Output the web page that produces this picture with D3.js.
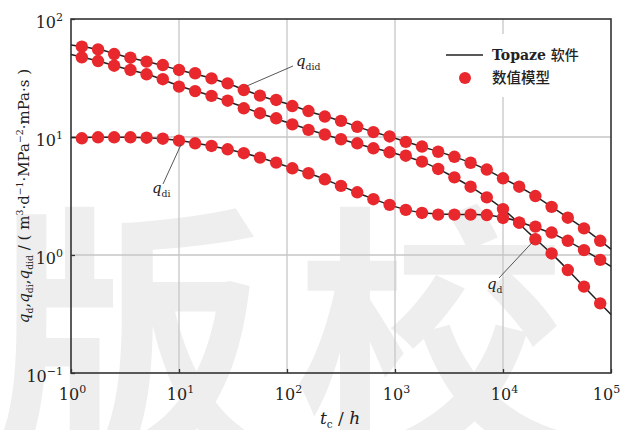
<!DOCTYPE html>
<html>
<head>
<meta charset="utf-8">
<script src="https://cdn.jsdelivr.net/npm/d3@7/dist/d3.min.js"></script>
<style>
  html, body { margin: 0; padding: 0; background: #ffffff; }
  svg { display: block; }
</style>
</head>
<body>
<svg id="chart" width="621" height="430"></svg>
<script>
// Simulated production time, h (numerical model sample times)
const tHours = [1.26, 1.78, 2.51, 3.55, 5.01, 7.08, 10, 14.1, 20.0, 28.2, 39.8, 56.2, 79.4,
  112, 158, 224, 316, 447, 631, 891, 1259, 1778, 2512, 3548, 5012, 7079, 10000,
  14125, 19953, 28184, 39811, 56234, 79433];

// Numerical model results
const qdidModel = [58.2, 55.3, 50.5, 47.0, 43.5, 40.7, 37.0, 34.7, 31.4, 28.5, 25.0, 22.4, 20.6,
  18.3, 16.6, 14.9, 13.7, 12.2, 11.0, 10.1, 9.1, 8.3, 7.5, 6.8, 6.05, 5.3, 4.47,
  3.79, 3.16, 2.56, 2.07, 1.68, 1.32];
const qdModel = [47.3, 44.0, 40.2, 37.0, 34.0, 30.9, 26.7, 24.5, 22.3, 20.3, 17.5, 15.9, 14.4,
  12.8, 11.5, 10.5, 9.57, 8.85, 8.02, 7.42, 6.94, 6.18, 5.36, 4.55, 3.79, 3.08, 2.45,
  1.88, 1.36, 1.03, 0.746, 0.539, 0.389];
const qdiModel = [9.75, 9.94, 9.94, 9.94, 9.86, 9.67, 9.31, 8.85, 8.40, 7.87, 7.29, 6.69, 6.06,
  5.43, 4.93, 4.38, 3.85, 3.40, 2.97, 2.66, 2.41, 2.27, 2.20, 2.20, 2.20, 2.18, 2.06,
  1.88, 1.74, 1.55, 1.32, 1.10, 0.91];

// Topaze software curves
const topazeT = [1, 1.78, 3.16, 5.62, 10, 17.8, 31.6, 56.2, 100, 178, 316, 562, 1000,
  1778, 3162, 5623, 10000, 17783, 31623, 56234, 100000];
const qdidTopaze = [60.3, 55.3, 48.1, 42.5, 37.0, 32.4, 27.3, 22.4, 19.1, 16.0, 13.7, 11.4, 9.75,
  8.28, 7.03, 5.80, 4.47, 3.36, 2.39, 1.68, 1.12];
const qdTopaze = [50.1, 44.1, 38.0, 33.0, 27.2, 23.0, 19.3, 15.9, 13.3, 11.2, 9.57, 8.28, 7.26,
  6.18, 4.81, 3.54, 2.45, 1.51, 0.927, 0.538, 0.313];
const qdiTopaze = [9.89, 9.93, 9.93, 9.79, 9.33, 8.55, 7.67, 6.70, 5.64, 4.74, 3.85, 3.11, 2.57,
  2.28, 2.21, 2.20, 2.08, 1.78, 1.46, 1.10, 0.80];

// Axis ticks (decades)
const xTicks = [1, 10, 100, 1000, 10000, 100000];
const xTickExp = ["0", "1", "2", "3", "4", "5"];
const yTicks = [0.1, 1, 10, 100];
const yTickExp = ["\u22121", "0", "1", "2"];

const legendLabels = ["Topaze \u8f6f\u4ef6", "\u6570\u503c\u6a21\u578b"];

const svg = d3.select("#chart");
const W = 621, H = 430;
const box = { left: 71, right: 611, top: 19, bottom: 373 };

const serif = "'DejaVu Serif', 'Liberation Serif', serif";
const cjk = "'Noto Sans CJK SC', sans-serif";
const red = "#e8282c";

svg.append("rect").attr("width", W).attr("height", H).attr("fill", "#ffffff");

// Background stamp characters
svg.append("text")
  .attr("x", -8).attr("y", 438)
  .attr("font-family", cjk).attr("font-weight", 700)
  .attr("font-size", 272)
  .attr("letter-spacing", 30)
  .attr("fill", "#eeeeee")
  .text("\u7248\u6821");

const x = d3.scaleLog().domain([1, 1e5]).range([box.left, box.right]);
const y = d3.scaleLog().domain([0.1, 100]).range([box.bottom, box.top]);

// Grid
const grid = svg.append("g").attr("stroke", "#c6c6c6").attr("stroke-width", 1.3);
grid.selectAll("line.v").data(xTicks.slice(1, -1)).join("line")
  .attr("x1", d => x(d)).attr("x2", d => x(d))
  .attr("y1", box.top).attr("y2", box.bottom);
grid.selectAll("line.h").data(yTicks.slice(1, -1)).join("line")
  .attr("x1", box.left).attr("x2", box.right)
  .attr("y1", d => y(d)).attr("y2", d => y(d));

// Axes with inward ticks
function richTick(sel, exps) {
  sel.selectAll(".tick text").each(function (d, i) {
    const t = d3.select(this);
    t.text(null);
    t.append("tspan").text("10");
    t.append("tspan").attr("font-size", 11).attr("dy", -7).text(exps[i]);
  });
}

const xAxis = svg.append("g")
  .attr("transform", `translate(0,${box.bottom})`)
  .call(d3.axisBottom(x).tickValues(xTicks).tickSizeInner(-4).tickSizeOuter(0).tickPadding(16));
xAxis.select(".domain").remove();
xAxis.selectAll(".tick line").attr("stroke", "#333").attr("stroke-width", 1.3);
xAxis.selectAll(".tick text").attr("font-family", serif).attr("font-size", 16).attr("fill", "#222")
  .attr("dx", (d, i) => i === xTicks.length - 1 ? -5 : 1);
richTick(xAxis, xTickExp);

const yAxis = svg.append("g")
  .attr("transform", `translate(${box.left},0)`)
  .call(d3.axisLeft(y).tickValues(yTicks).tickSizeInner(-4).tickSizeOuter(0).tickPadding(8));
yAxis.select(".domain").remove();
yAxis.selectAll(".tick line").attr("stroke", "#333").attr("stroke-width", 1.3);
yAxis.selectAll(".tick text").attr("font-family", serif).attr("font-size", 16).attr("fill", "#222")
  .attr("dy", "0.5em");
richTick(yAxis, yTickExp);

// Frame
svg.append("rect")
  .attr("x", box.left).attr("y", box.top)
  .attr("width", box.right - box.left).attr("height", box.bottom - box.top)
  .attr("fill", "none").attr("stroke", "#333").attr("stroke-width", 1.6);

// Topaze curves
const lineGen = d3.line().x(d => x(d[0])).y(d => y(d[1])).curve(d3.curveMonotoneX);
const curves = svg.append("g").attr("fill", "none").attr("stroke", "#222").attr("stroke-width", 1.5);
[qdidTopaze, qdTopaze, qdiTopaze].forEach(vals => {
  curves.append("path").attr("d", lineGen(vals.map((v, i) => [topazeT[i], v])));
});

// Numerical model points
const pts = svg.append("g").attr("fill", red);
[qdidModel, qdModel, qdiModel].forEach(vals => {
  pts.selectAll(null).data(vals.map((v, i) => [tHours[i], v])).join("circle")
    .attr("cx", d => x(d[0])).attr("cy", d => y(d[1])).attr("r", 6.2);
});

// Rich text helper: parts of [text, kind] where kind is "", "i", "sub", "sup"
function rich(textSel, parts, baseSize) {
  let shift = 0;
  parts.forEach(([s, kind]) => {
    const target = kind === "sub" ? 4 : kind === "sup" ? -6 : 0;
    const ts = textSel.append("tspan").text(s);
    if (target !== shift) ts.attr("dy", target - shift);
    shift = target;
    if (kind === "i") ts.attr("font-style", "italic");
    if (kind === "sub" || kind === "sup") ts.attr("font-size", baseSize * 0.62);
  });
}

// Curve labels with leader lines
const ann = svg.append("g");
function label(lx, ly, sub, x1, y1, x2, y2) {
  ann.append("line").attr("x1", x1).attr("y1", y1).attr("x2", x2).attr("y2", y2)
    .attr("stroke", "#444").attr("stroke-width", 0.9);
  const t = ann.append("text").attr("x", lx).attr("y", ly)
    .attr("font-family", serif).attr("font-size", 15).attr("fill", "#222");
  rich(t, [["q", "i"], [sub, "sub"]], 15);
}
label(296, 66, "did", 293, 66, x(tHours[10]) + 3, y(qdidModel[10]) - 4);
label(152, 193, "di", 163, 184, x(tHours[6]) + 2, y(qdiModel[6]) + 4);
label(487, 289, "d", 499, 278, x(tHours[28]) - 3, y(qdModel[28]) + 3);

// Legend
const lg = svg.append("g");
lg.append("rect").attr("x", 438).attr("y", 34).attr("width", 168).attr("height", 63).attr("fill", "#ffffff");
lg.append("line").attr("x1", 446).attr("x2", 483).attr("y1", 55).attr("y2", 55)
  .attr("stroke", "#222").attr("stroke-width", 1.5);
lg.append("circle").attr("cx", 465).attr("cy", 78).attr("r", 6).attr("fill", red);
const lt1 = lg.append("text").attr("x", 492).attr("y", 60).attr("font-size", 14).attr("fill", "#222");
lt1.append("tspan").attr("font-family", serif).attr("font-weight", 700).text("Topaze ");
lt1.append("tspan").attr("font-family", cjk).attr("font-weight", 500).text("\u8f6f\u4ef6");
lg.append("text").attr("x", 492).attr("y", 83).attr("font-size", 14.5).attr("fill", "#222")
  .attr("font-family", cjk).attr("font-weight", 500).text(legendLabels[1]);

// Axis titles
const xt = svg.append("text").attr("x", 340).attr("y", 424).attr("text-anchor", "middle")
  .attr("font-family", serif).attr("font-size", 17).attr("fill", "#222");
rich(xt, [["t", "i"], ["c", "sub"], [" / ", ""], ["h", "i"]], 17);

const yt = svg.append("text")
  .attr("transform", "translate(29,196) rotate(-90)")
  .attr("text-anchor", "middle")
  .attr("font-family", serif).attr("font-size", 15).attr("fill", "#222");
rich(yt, [
  ["q", "i"], ["d", "sub"], [",", ""], ["q", "i"], ["di", "sub"], [",", ""], ["q", "i"], ["did", "sub"],
  [" / ( m", ""], ["3", "sup"], ["\u00b7d", ""], ["\u22121", "sup"], ["\u00b7MPa", ""], ["\u22122", "sup"],
  ["\u00b7mPa\u00b7s )", ""]
], 15);
</script>
</body>
</html>
